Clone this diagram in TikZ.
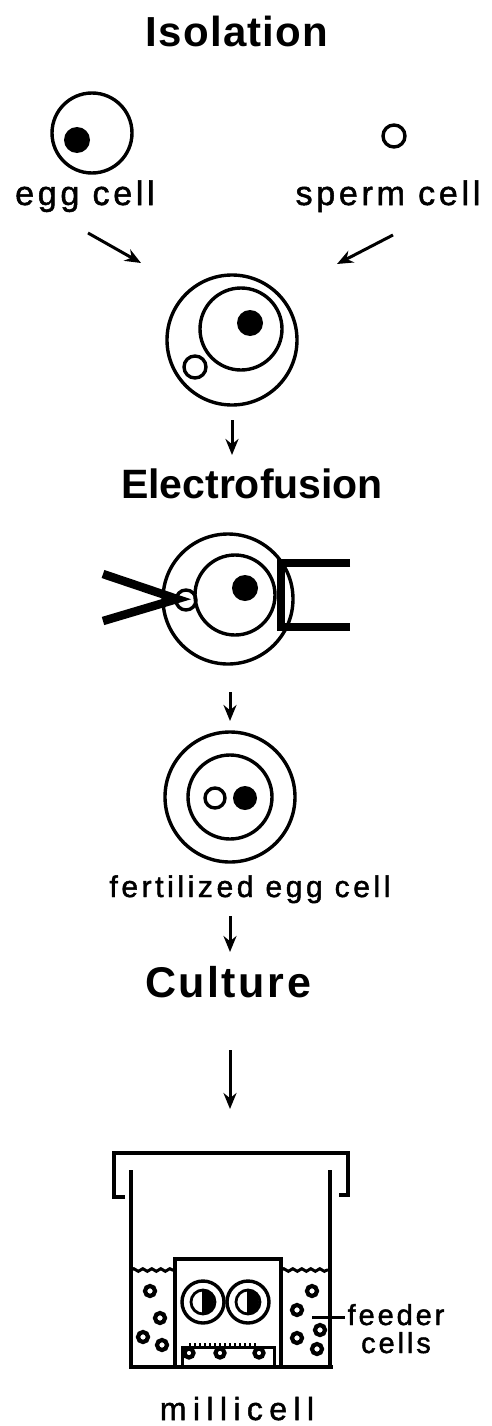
\documentclass[tikz,border=0pt]{standalone}
\usepackage{fontspec}
\setmainfont{Liberation Sans}
\newfontfamily\labelfont[FakeBold=1.5]{Liberation Sans}
\newfontfamily\headfont[LetterSpace=3]{Liberation Sans}
\usetikzlibrary{arrows.meta,decorations.pathmorphing}

\tikzset{every picture/.style={line width=3.4pt}}
\tikzset{
  heading/.style={font=\headfont\bfseries\fontsize{42}{42}\selectfont, anchor=base, inner sep=0.75pt},
  celllabel/.style={font=\labelfont\fontsize{34}{34}\selectfont\addfontfeature{LetterSpace=11}, anchor=base, inner sep=0.75pt},
  flow/.style={line width=3pt, -{Stealth[length=16pt,width=13pt]}},
  ring/.style={line width=3.4pt},
  nucleus/.style={fill=black},
  feeder/.style={line width=4.2pt},
  electrode/.style={line width=8.5pt, line join=miter},
}

\begin{document}
\begin{tikzpicture}[x=1pt,y=1pt,yscale=-1,xscale=1]
\path[use as bounding box] (0,0) rectangle (492,1426);

% Text Node
\node [heading] (isolation) at (237,47) {Isolation};

%Shape: Circle -- egg cell
\draw [ring] (92,133) circle [radius=40];
\fill [nucleus] (77,140) circle [radius=13];
% Text Node
\node [celllabel] (egglab) at (85,205) {egg cell};

%Shape: Circle -- sperm cell
\draw [ring] (394,136) circle [radius=11];
% Text Node
\node [celllabel] (spermlab) at (388,205) {sperm cell};

%Straight Lines
\coordinate (egg out) at (88,233);
\coordinate (egg in) at (141,263);
\coordinate (sperm out) at (393,235);
\coordinate (sperm in) at (337,264);
\draw [flow] (egg out) -- (egg in);
\draw [flow] (sperm out) -- (sperm in);

%Shape: Circle -- both cells together
\draw [ring] (232,340) circle [radius=65];
\draw [ring] (241,329) circle [radius=41];
\fill [nucleus] (250,323) circle [radius=13];
\draw [ring] (195,367) circle [radius=11];

\coordinate (pair out) at (232,420);
\coordinate (pair in) at (232,455);
\draw [flow] (pair out) -- (pair in);

% Text Node
\node [heading, font=\headfont\bfseries\fontsize{41}{41}\selectfont\addfontfeature{LetterSpace=0}] (electro) at (252,498) {Electrofusion};

%Shape: Circle -- cell between electrodes
\draw [ring] (228,599) circle [radius=65];
\draw [ring] (235,595) circle [radius=40];
\fill [nucleus] (245,588) circle [radius=13];
\draw [ring] (186,600) circle [radius=10];

%Straight Lines -- electrodes
\draw [electrode] (103,574) -- (177,599) -- (103,621);
\draw [electrode] (350,563) -- (281,563) -- (281,627) -- (350,627);

\coordinate (fuse out) at (230,692);
\coordinate (fuse in) at (230,721);
\draw [flow] (fuse out) -- (fuse in);

%Shape: Circle -- fertilized egg cell
\draw [ring] (230,797) circle [radius=65];
\draw [ring] (230,797) circle [radius=42];
\draw [ring] (215,798) circle [radius=10];
\fill [nucleus] (245,798) circle [radius=12];

% Text Node
\node [celllabel, font=\labelfont\fontsize{30}{30}\selectfont\addfontfeature{LetterSpace=12}] (fertlab) at (250,897) {fertilized egg cell};

\coordinate (fert out) at (230,916);
\coordinate (fert in) at (230,952);
\draw [flow] (fert out) -- (fert in);

% Text Node
\node [heading, font=\headfont\bfseries\fontsize{43}{43}\selectfont\addfontfeature{LetterSpace=6}] (culture) at (228,997) {Culture};

\coordinate (cult out) at (230,1050);
\coordinate (cult in) at (230,1109);
\draw [flow] (cult out) -- (cult in);

%Shape: millicell lid
\draw [line width=3.4pt] (125,1197) -- (114,1197) -- (114,1153) -- (348,1153) -- (348,1195) -- (339,1195);

%Shape: well
\draw [line width=3.4pt] (131,1170) -- (131,1367);
\draw [line width=3.4pt] (330,1170) -- (330,1367);
\draw [line width=4pt] (129,1367) -- (333,1367);

% liquid surface
\draw [line width=3pt, decorate, decoration={snake, amplitude=1.3pt, segment length=9pt}] (131,1270) -- (175,1270);
\draw [line width=3pt, decorate, decoration={snake, amplitude=1.3pt, segment length=9pt}] (281,1270) -- (330,1270);

%Shape: insert
\draw [line width=3.4pt] (175,1367) -- (175,1259) -- (281,1259) -- (281,1367);
\draw [line width=3pt] (182,1367) -- (182,1347) -- (274,1347) -- (274,1367);
\foreach \tx in {190,195,...,256}
  \draw [line width=1.5pt] (\tx,1347) -- (\tx,1343);

%Shape: Circle -- embryos in the insert
\foreach \ex in {203,248} {
  \draw [ring] (\ex,1302) circle [radius=21];
  \draw [line width=2.8pt] (\ex,1302) circle [radius=12];
  \fill [nucleus] (\ex-1,1290) arc [start angle=-90, end angle=90, radius=12] -- cycle;
}

%Shape: Circle -- feeder cells
\foreach \fx/\fy in {150/1291, 160/1318, 143/1337, 162/1345,
                     312/1291, 297/1310, 297/1338, 320/1330, 317/1349}
  \draw [feeder] (\fx,\fy) circle [radius=5];
\foreach \fx in {189,220,259}
  \draw [feeder] (\fx,1353) circle [radius=4.5];

% pointer to the feeder cells
\coordinate (feed tip) at (312,1317);
\node [celllabel, font=\labelfont\fontsize{29}{29}\selectfont\addfontfeature{LetterSpace=10}] (feedlab) at (396,1325) {feeder};
\node [celllabel, font=\labelfont\fontsize{29}{29}\selectfont\addfontfeature{LetterSpace=10}] (celllab) at (396,1353) {cells};
\draw [line width=3pt] (feed tip) -- (feedlab.west |- feed tip);

% Text Node
\node [celllabel, font=\labelfont\fontsize{32}{32}\selectfont\addfontfeature{LetterSpace=20}] (millilab) at (237,1420) {millicell};

\end{tikzpicture}
\end{document}
